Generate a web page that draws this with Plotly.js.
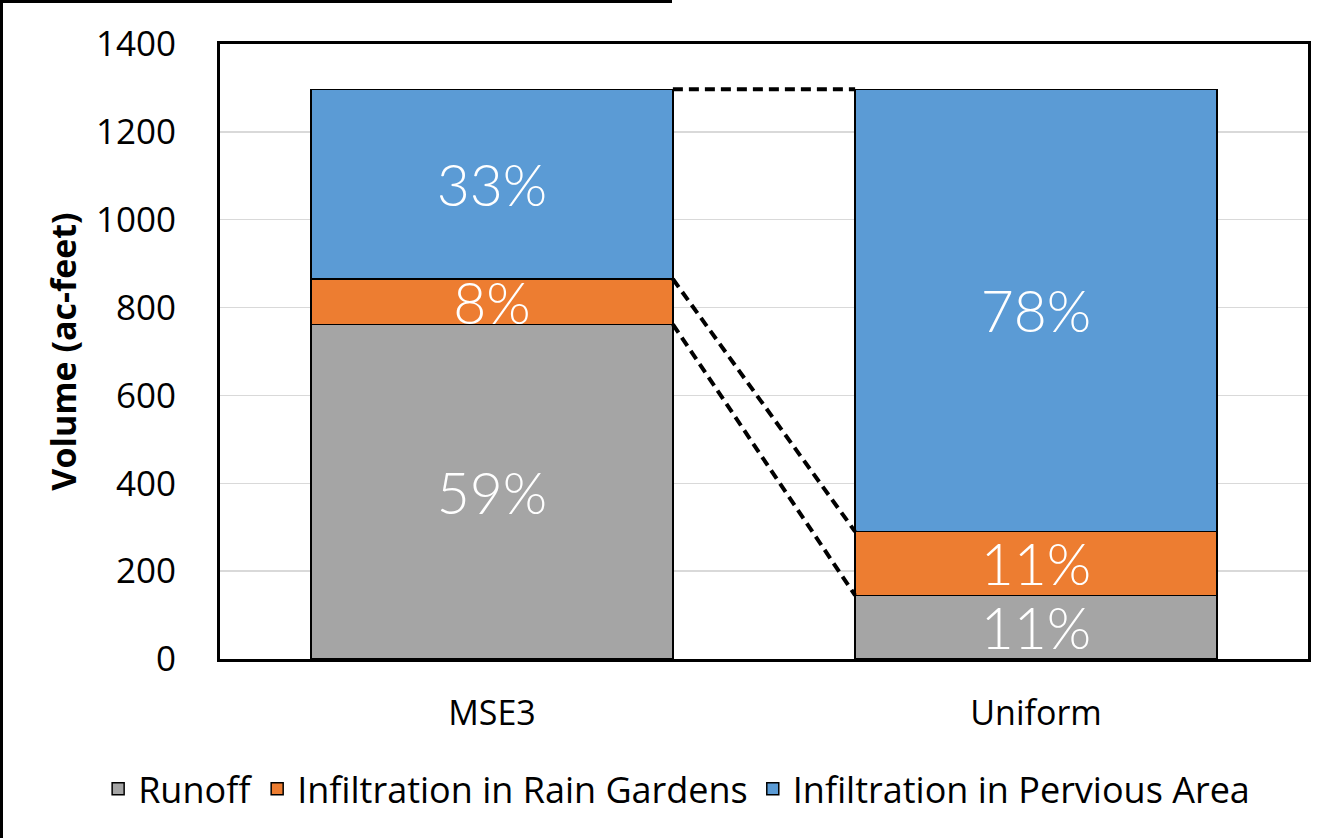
<!DOCTYPE html>
<html>
<head>
<meta charset="utf-8">
<script src="https://cdn.plot.ly/plotly-3.0.1.min.js"></script>
<style>
  body { margin: 0; background: #fff; }
  #wrap { position: relative; width: 1337px; height: 838px; }
  #chart { width: 1337px; height: 838px; }
  .edge-top { position: absolute; left: 0; top: 0; width: 672px; height: 3px; background: #000; }
  .edge-left { position: absolute; left: 0; top: 0; width: 3px; height: 838px; background: #000; }
</style>
</head>
<body>
<div id="wrap">
  <div id="chart"></div>
  <div class="edge-top"></div>
  <div class="edge-left"></div>
</div>
<script>
// scenarios and volumes (ac-feet)
const categories = ["MSE3", "Uniform"];
const runoff = [762, 145];
const rainGardens = [103, 145];
const perviousArea = [432, 1007];

const seriesNames = ["Runoff", "Infiltration in Rain Gardens", "Infiltration in Pervious Area"];
const seriesColors = ["#a5a5a5", "#ed7d31", "#5b9bd5"];
const yTicks = [0, 200, 400, 600, 800, 1000, 1200, 1400];

const barWidth = 0.665;
const xPos = categories.map((_, i) => i);
const series = [runoff, rainGardens, perviousArea];
const totals = xPos.map((i) => series.reduce((s, arr) => s + arr[i], 0));

const data = series.map((vals, k) => ({
  type: "bar",
  name: seriesNames[k],
  x: xPos,
  y: vals,
  width: barWidth,
  marker: { color: seriesColors[k], line: { color: "#000", width: 1.5 } },
  text: vals.map((v, i) => Math.round((v / totals[i]) * 100) + "%"),
  textposition: "inside",
  insidetextanchor: "middle",
  constraintext: "none",
  textfont: { family: "Lato, 'Open Sans', sans-serif", size: 57, color: "#fff", weight: 300 },
  hoverinfo: "none",
}));

// dashed series lines joining the tops of each stacked segment
let cum = [0, 0];
series.forEach((vals) => {
  cum = cum.map((c, i) => c + vals[i]);
  data.push({
    type: "scatter",
    mode: "lines",
    x: [xPos[0] + barWidth / 2, xPos[1] - barWidth / 2],
    y: [cum[0], cum[1]],
    line: { color: "#000", width: 4, dash: "10px,6px" },
    showlegend: false,
    hoverinfo: "skip",
  });
});

const layout = {
  width: 1337,
  height: 838,
  margin: { l: 220, r: 29, t: 44, b: 179, autoexpand: false },
  paper_bgcolor: "#fff",
  plot_bgcolor: "#fff",
  barmode: "stack",
  font: { family: "'Open Sans', 'Noto Sans', sans-serif", color: "#000", size: 34 },
  xaxis: {
    range: [-0.5, 1.5],
    tickvals: xPos,
    ticktext: categories,
    showgrid: false,
    zeroline: false,
    showline: true,
    mirror: true,
    linecolor: "#000",
    linewidth: 3,
    ticks: "",
    ticklabelstandoff: 22,
    tickfont: { size: 34 },
  },
  yaxis: {
    range: [0, 1400],
    tickvals: yTicks,
    showgrid: true,
    gridcolor: "#d9d9d9",
    gridwidth: 1.5,
    zeroline: false,
    showline: true,
    mirror: true,
    linecolor: "#000",
    linewidth: 3,
    ticks: "",
    ticklabelstandoff: 34,
    tickfont: { size: 35 },
    title: {
      text: "<b>Volume (ac-feet)</b>",
      font: { size: 34 },
      standoff: 10,
    },
  },
  legend: {
    orientation: "h",
    x: -0.112,
    xanchor: "left",
    y: -0.211,
    yanchor: "middle",
    font: { size: 36 },
    itemwidth: 30,
    traceorder: "normal",
  },
};

Plotly.newPlot("chart", data, layout, { displayModeBar: false, staticPlot: true });
</script>
</body>
</html>
